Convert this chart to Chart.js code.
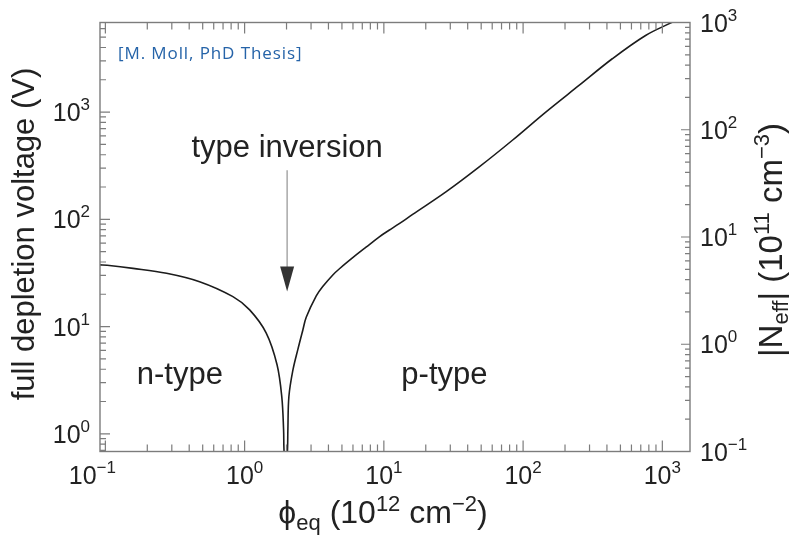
<!DOCTYPE html>
<html>
<head>
<meta charset="utf-8">
<script src="https://cdn.jsdelivr.net/npm/chart.js@4.4.1/dist/chart.umd.min.js"></script>
<style>
  html, body { margin: 0; padding: 0; background: #fff; }
  canvas { display: block; }
</style>
</head>
<body>
<canvas id="depletionChart" width="792" height="549"></canvas>
<script>
// fluence phi_eq in 1e12 cm^-2
const fluence = [
  0.0915, 0.103, 0.158, 0.275, 0.475, 0.824, 1.087, 1.43, 1.71, 1.85, 1.905, 1.915,
  1.975,
  2.035, 2.045, 2.08, 2.22, 2.41, 2.62, 2.77, 3.27, 3.64, 4.3, 4.8, 6.32, 7.45,
  9.28, 10.9, 12.9, 16.1, 27.9, 48.4, 83.8, 145.5, 252, 437, 758, 1175
]
// full depletion voltage in V
const depletionVoltage = [
  37.6, 37.3, 34.9, 31.4, 26.2, 19.0, 14.3, 8.7, 4.4, 2.2, 1.09, 0.75,
  0.3,
  0.75, 1.09, 2.23, 3.9, 6.1, 9.3, 12.2, 19.3, 23.6, 30.3, 34.6, 46.5, 55.0,
  68.7, 79, 91, 111, 180, 308, 546, 1000, 1770, 3140, 5180, 6870
]

const fluenceDecades = [0.1, 1, 10, 100, 1000]
const voltageDecades = [1, 10, 100, 1000]
const neffDecades = [0.1, 1, 10, 100, 1000]

const fluenceRange = [0.0915, 1580]
const voltageRange = [0.684, 6840]
const neffRange = [0.1, 1000]

const INK = "#222"
const AXIS = "#7c7c7c"
const FONT = '"Liberation Sans", Arial, Helvetica, sans-serif'

// annotations, placed in data coordinates
const notes = [
  { text: "type inversion", x: 2.02, y: 381, align: "center" },
  { text: "n-type", x: 0.168, y: 2.93, align: "left" },
  { text: "p-type", x: 13.35, y: 2.93, align: "left" }
]
const arrow = { x: 2.02, from: 287, to: 21.2 }

function isDecade(v) {
  const l = Math.log10(v)
  return Math.abs(l - Math.round(l)) < 1e-6
}

// 1..9 x 10^k values inside [min, max]
function logTickValues(min, max) {
  const out = []
  for (let k = Math.floor(Math.log10(min)); k <= Math.ceil(Math.log10(max)); k++) {
    for (let m = 1; m <= 9; m++) {
      const v = m * Math.pow(10, k)
      if (v >= min * 0.999 && v <= max * 1.001) out.push(v)
    }
  }
  return out
}

function expText(v) {
  const e = Math.round(Math.log10(v))
  return e < 0 ? "\u2212" + Math.abs(e) : String(e)
}

// draws a run of text pieces [text, size, dy] with a shared baseline
function drawRich(ctx, parts, x, y, align) {
  let total = 0
  const widths = parts.map(([t, size]) => {
    ctx.font = size + "px " + FONT
    const w = ctx.measureText(t).width
    total += w
    return w
  })
  let cx = align === "center" ? x - total / 2 : align === "right" ? x - total : x
  ctx.textAlign = "left"
  ctx.textBaseline = "alphabetic"
  parts.forEach(([t, size, dy], i) => {
    ctx.font = size + "px " + FONT
    ctx.fillText(t, cx, y + (dy || 0))
    cx += widths[i]
  })
}

function powerLabel(v) {
  return [["10", 25, 0], [expText(v), 17, -11]]
}

const frame = {
  id: "frame",
  afterDatasetsDraw(chart) {
    const { ctx, chartArea: a, scales } = chart
    const x = scales.x, y = scales.y, y2 = scales.y2
    ctx.save()

    // box
    ctx.strokeStyle = AXIS
    ctx.lineWidth = 1.4
    ctx.strokeRect(a.left, a.top, a.right - a.left, a.bottom - a.top)

    // inward ticks on all four sides
    ctx.lineWidth = 1.2
    ctx.beginPath()
    logTickValues(fluenceRange[0], fluenceRange[1]).forEach(v => {
      const px = x.getPixelForValue(v)
      const len = isDecade(v) ? 11 : 7
      ctx.moveTo(px, a.bottom); ctx.lineTo(px, a.bottom - len)
      ctx.moveTo(px, a.top); ctx.lineTo(px, a.top + len)
    })
    logTickValues(voltageRange[0], voltageRange[1]).forEach(v => {
      const py = y.getPixelForValue(v)
      const len = isDecade(v) ? 10 : 6
      ctx.moveTo(a.left, py); ctx.lineTo(a.left + len, py)
    })
    logTickValues(neffRange[0], neffRange[1]).forEach(v => {
      const py = y2.getPixelForValue(v)
      const len = isDecade(v) ? 9 : 5
      ctx.moveTo(a.right, py); ctx.lineTo(a.right - len, py)
    })
    ctx.stroke()

    // tick labels; the first bottom label sits a little left of its tick
    ctx.fillStyle = INK
    fluenceDecades.forEach((v, i) => {
      const nudge = i === 0 ? -13 : 0
      drawRich(ctx, powerLabel(v), x.getPixelForValue(v) + nudge, a.bottom + 32, "center")
    })
    voltageDecades.forEach(v => {
      drawRich(ctx, powerLabel(v), a.left - 10, y.getPixelForValue(v) + 9, "right")
    })
    neffDecades.forEach(v => {
      drawRich(ctx, powerLabel(v), a.right + 10, y2.getPixelForValue(v) + 9, "left")
    })

    // axis titles
    drawRich(ctx, [["\u03d5", 32, 0], ["eq", 22, 7], [" (10", 32, 0], ["12", 22, -12],
      [" cm", 32, 0], ["\u22122", 22, -12], [")", 32, 0]], 383, 523, "center")

    ctx.save()
    ctx.translate(34, 234)
    ctx.rotate(-Math.PI / 2)
    drawRich(ctx, [["full depletion voltage (V)", 31, 0]], 0, 0, "center")
    ctx.restore()

    ctx.save()
    ctx.translate(782, 240)
    ctx.rotate(-Math.PI / 2)
    drawRich(ctx, [["|N", 33, 0], ["eff", 22, 6], ["| (10", 33, 0], ["11", 22, -13],
      [" cm", 33, 0], ["\u22123", 22, -13], [")", 33, 0]], 0, 0, "center")
    ctx.restore()

    // annotations
    notes.forEach(n => {
      drawRich(ctx, [[n.text, 31, 0]], x.getPixelForValue(n.x), y.getPixelForValue(n.y), n.align)
    })

    // arrow pointing at the inversion point
    const ax = x.getPixelForValue(arrow.x)
    const top = y.getPixelForValue(arrow.from)
    const tip = y.getPixelForValue(arrow.to)
    ctx.strokeStyle = "#a8a8a8"
    ctx.lineWidth = 1.5
    ctx.beginPath()
    ctx.moveTo(ax, top)
    ctx.lineTo(ax, tip - 24)
    ctx.stroke()
    ctx.fillStyle = "#333"
    ctx.beginPath()
    ctx.moveTo(ax - 7, tip - 25)
    ctx.lineTo(ax + 7, tip - 25)
    ctx.lineTo(ax, tip)
    ctx.closePath()
    ctx.fill()

    // source note
    ctx.fillStyle = "#2563a8"
    ctx.font = '17px "Open Sans", sans-serif'
    ctx.letterSpacing = "0.9px"
    ctx.textAlign = "left"
    ctx.textBaseline = "alphabetic"
    ctx.fillText("[M. Moll, PhD Thesis]", a.left + 18, a.top + 36)

    ctx.restore()
  }
}

const ctx = document.getElementById("depletionChart").getContext("2d")
new Chart(ctx, {
  type: "line",
  data: {
    datasets: [{
      data: fluence.map((f, i) => ({ x: f, y: depletionVoltage[i] })),
      borderColor: "#1c1c1c",
      borderWidth: 1.6,
      pointRadius: 0,
      tension: 0.35,
      fill: false,
      yAxisID: "y"
    }]
  },
  options: {
    responsive: false,
    animation: false,
    layout: { padding: { top: 22.5, left: 0, right: 0, bottom: 0 } },
    plugins: {
      legend: { display: false },
      tooltip: { enabled: false }
    },
    scales: {
      x: {
        type: "logarithmic",
        position: "bottom",
        min: fluenceRange[0],
        max: fluenceRange[1],
        ticks: { display: false },
        grid: { display: false },
        border: { display: false },
        afterFit: s => { s.height = 97.5 }
      },
      y: {
        type: "logarithmic",
        position: "left",
        min: voltageRange[0],
        max: voltageRange[1],
        ticks: { display: false },
        grid: { display: false },
        border: { display: false },
        afterFit: s => { s.width = 100 }
      },
      y2: {
        type: "logarithmic",
        position: "right",
        min: neffRange[0],
        max: neffRange[1],
        ticks: { display: false },
        grid: { display: false },
        border: { display: false },
        afterFit: s => { s.width = 102 }
      }
    }
  },
  plugins: [frame]
})
</script>
</body>
</html>
